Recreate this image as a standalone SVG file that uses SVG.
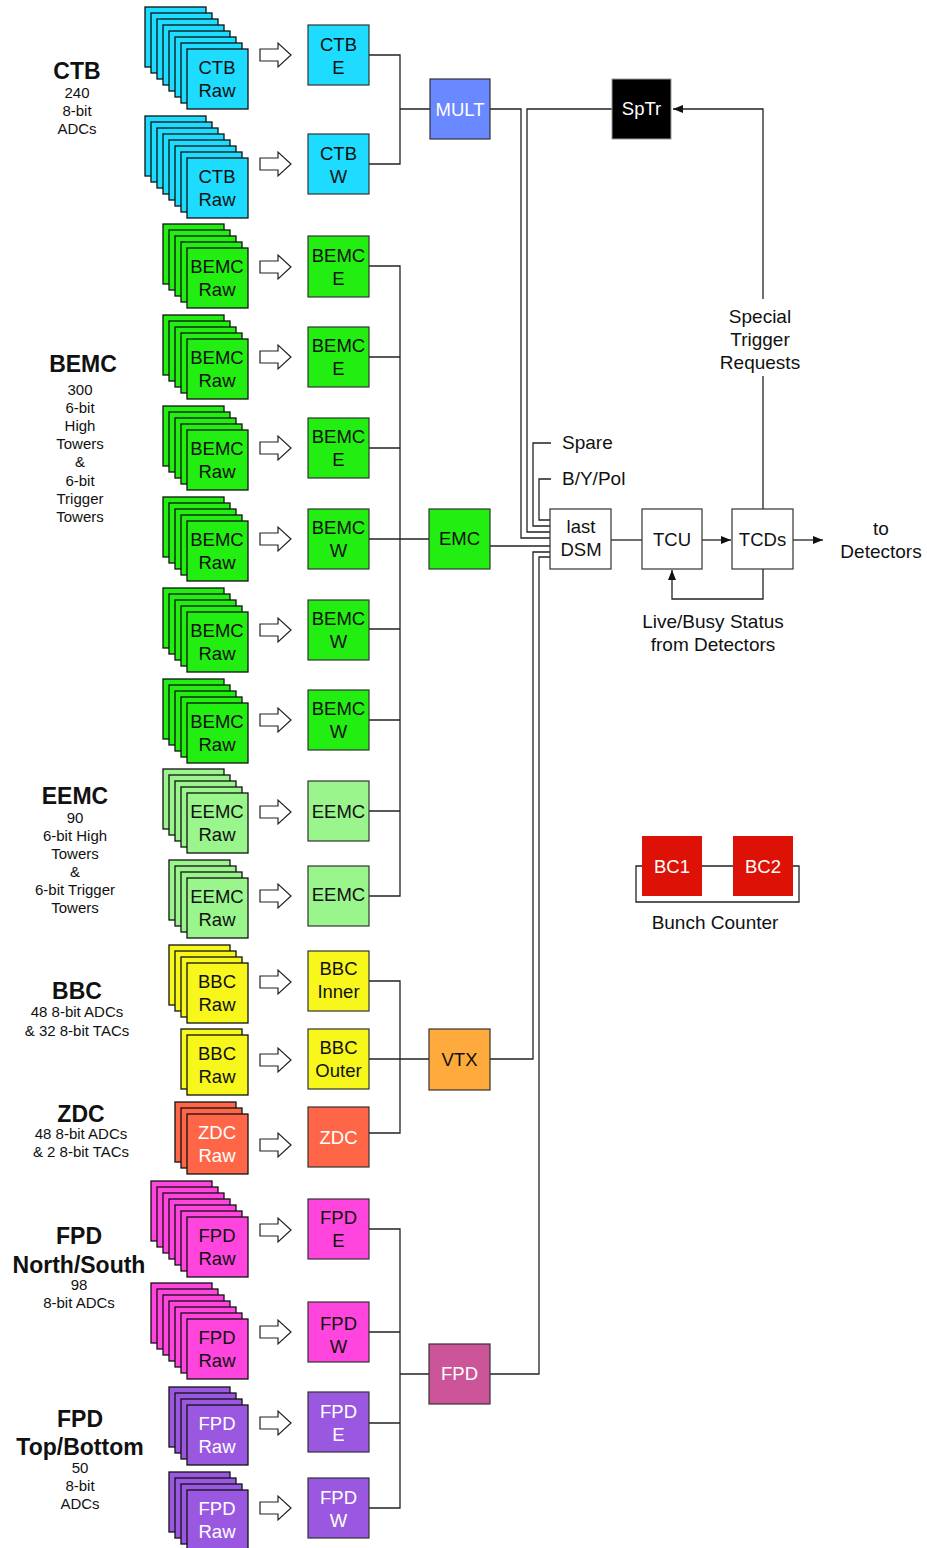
<svg xmlns="http://www.w3.org/2000/svg" xmlns:xlink="http://www.w3.org/1999/xlink" width="927" height="1548" viewBox="0 0 927 1548">
<style>
text{font-family:"Liberation Sans",Arial,sans-serif;fill:#111}
.bt{font-size:18.5px;text-anchor:middle}
.wt{fill:#fff}
.lab{font-size:19px}
.hd{font-size:23px;font-weight:bold;text-anchor:middle}
.sm{font-size:15px;text-anchor:middle}
.card{stroke:#111;stroke-width:1.3}
.box{stroke:#333;stroke-width:1.2}
.cy{fill:#1ddcff}.gr{fill:#22ee11}.lg{fill:#99f58c}.ye{fill:#f7f71c}.zd{fill:#ff6648}.mg{fill:#ff45dd}.pu{fill:#9a58e0}
.ln{fill:none;stroke:#222;stroke-width:1.3}
.blk{fill:#fff;stroke:#222;stroke-width:1.2}
</style>
<defs>
<marker id="ah" viewBox="0 0 10 8" refX="10" refY="4" markerWidth="10" markerHeight="8" markerUnits="userSpaceOnUse" orient="auto"><path d="M0,0 L10,4 L0,8 Z" fill="#111"/></marker>
<path id="blk" class="blk" d="M0,-6 H18 V-12 L31,0 L18,12 V6 H0 Z"/>
</defs>

<g id="connectors">
<path class="ln" d="M369,55 H400 V164 H369 M400,109 H430"/>
<path class="ln" d="M369,266 H400 V896 H369 M369,357 H400 M369,448 H400 M369,539 H429 M369,629 H400 M369,720 H400 M369,811 H400"/>
<path class="ln" d="M369,981 H400 V1133 H369 M369,1059 H429"/>
<path class="ln" d="M369,1229 H400 V1508 H369 M369,1332 H400 M369,1423 H400 M400,1374 H429"/>
<path class="ln" d="M490,109 H521 V538 H550"/>
<path class="ln" d="M612,109 H527 V532 H550"/>
<path class="ln" d="M551,443 H533 V526 H550"/>
<path class="ln" d="M551,479 H539 V520 H550"/>
<path class="ln" d="M490,546 H550"/>
<path class="ln" d="M490,1059 H533 V552 H550"/>
<path class="ln" d="M490,1374 H539 V557 H550"/>
<path class="ln" d="M611,540 H642"/>
<path class="ln" d="M702,540 H731" marker-end="url(#ah)"/>
<path class="ln" d="M793,540 H823" marker-end="url(#ah)"/>
<path class="ln" d="M763,569 V599 H672 V570" marker-end="url(#ah)"/>
<path class="ln" d="M763,509 V376 M763,299 V109 H673" marker-end="url(#ah)"/>
<path class="ln" d="M702,866 H733 M642,866 H636 V902 H799 V866 H793"/>
<use xlink:href="#blk" x="260" y="55"/>
<use xlink:href="#blk" x="260" y="164"/>
<use xlink:href="#blk" x="260" y="267"/>
<use xlink:href="#blk" x="260" y="357"/>
<use xlink:href="#blk" x="260" y="448"/>
<use xlink:href="#blk" x="260" y="539"/>
<use xlink:href="#blk" x="260" y="630"/>
<use xlink:href="#blk" x="260" y="720"/>
<use xlink:href="#blk" x="260" y="812"/>
<use xlink:href="#blk" x="260" y="896"/>
<use xlink:href="#blk" x="260" y="982"/>
<use xlink:href="#blk" x="260" y="1060"/>
<use xlink:href="#blk" x="260" y="1145"/>
<use xlink:href="#blk" x="260" y="1230"/>
<use xlink:href="#blk" x="260" y="1332"/>
<use xlink:href="#blk" x="260" y="1423"/>
<use xlink:href="#blk" x="260" y="1508"/>
</g>

<g id="lbl-ctb"><text class="hd" x="77" y="79">CTB</text><text class="sm" x="77" y="98">240</text><text class="sm" x="77" y="116">8-bit</text><text class="sm" x="77" y="134">ADCs</text></g>
<g id="lbl-bemc"><text class="hd" x="83" y="372">BEMC</text><text class="sm" x="80" y="395">300</text><text class="sm" x="80" y="413">6-bit</text><text class="sm" x="80" y="431">High</text><text class="sm" x="80" y="449">Towers</text><text class="sm" x="80" y="467">&amp;</text><text class="sm" x="80" y="486">6-bit</text><text class="sm" x="80" y="504">Trigger</text><text class="sm" x="80" y="522">Towers</text></g>
<g id="lbl-eemc"><text class="hd" x="75" y="804">EEMC</text><text class="sm" x="75" y="823">90</text><text class="sm" x="75" y="841">6-bit High</text><text class="sm" x="75" y="859">Towers</text><text class="sm" x="75" y="877">&amp;</text><text class="sm" x="75" y="895">6-bit Trigger</text><text class="sm" x="75" y="913">Towers</text></g>
<g id="lbl-bbc"><text class="hd" x="77" y="999">BBC</text><text class="sm" x="77" y="1017">48 8-bit ADCs</text><text class="sm" x="77" y="1036">&amp; 32 8-bit TACs</text></g>
<g id="lbl-zdc"><text class="hd" x="81" y="1122">ZDC</text><text class="sm" x="81" y="1139">48 8-bit ADCs</text><text class="sm" x="81" y="1157">&amp; 2 8-bit TACs</text></g>
<g id="lbl-fpdns"><text class="hd" x="79" y="1244">FPD</text><text class="hd" x="79" y="1273">North/South</text><text class="sm" x="79" y="1290">98</text><text class="sm" x="79" y="1308">8-bit ADCs</text></g>
<g id="lbl-fpdtb"><text class="hd" x="80" y="1427">FPD</text><text class="hd" x="80" y="1455">Top/Bottom</text><text class="sm" x="80" y="1473">50</text><text class="sm" x="80" y="1491">8-bit</text><text class="sm" x="80" y="1509">ADCs</text></g>

<g id="ctb-raw-1" class="cy"><rect class="card" x="145" y="7" width="61" height="60"/><rect class="card" x="151" y="13" width="61" height="60"/><rect class="card" x="157" y="19" width="61" height="60"/><rect class="card" x="163" y="25" width="61" height="60"/><rect class="card" x="169" y="31" width="61" height="60"/><rect class="card" x="175" y="37" width="61" height="60"/><rect class="card" x="181" y="43" width="61" height="60"/><rect class="card" x="187" y="49" width="61" height="60"/><text class="bt" x="217" y="74">CTB</text><text class="bt" x="217" y="97">Raw</text></g>
<g id="ctb-raw-2" class="cy"><rect class="card" x="145" y="116" width="61" height="60"/><rect class="card" x="151" y="122" width="61" height="60"/><rect class="card" x="157" y="128" width="61" height="60"/><rect class="card" x="163" y="134" width="61" height="60"/><rect class="card" x="169" y="140" width="61" height="60"/><rect class="card" x="175" y="146" width="61" height="60"/><rect class="card" x="181" y="152" width="61" height="60"/><rect class="card" x="187" y="158" width="61" height="60"/><text class="bt" x="217" y="183">CTB</text><text class="bt" x="217" y="206">Raw</text></g>
<g id="bemc-raw-1" class="gr"><rect class="card" x="163" y="224" width="61" height="60"/><rect class="card" x="169" y="230" width="61" height="60"/><rect class="card" x="175" y="236" width="61" height="60"/><rect class="card" x="181" y="242" width="61" height="60"/><rect class="card" x="187" y="248" width="61" height="60"/><text class="bt" x="217" y="273">BEMC</text><text class="bt" x="217" y="296">Raw</text></g>
<g id="bemc-raw-2" class="gr"><rect class="card" x="163" y="315" width="61" height="60"/><rect class="card" x="169" y="321" width="61" height="60"/><rect class="card" x="175" y="327" width="61" height="60"/><rect class="card" x="181" y="333" width="61" height="60"/><rect class="card" x="187" y="339" width="61" height="60"/><text class="bt" x="217" y="364">BEMC</text><text class="bt" x="217" y="387">Raw</text></g>
<g id="bemc-raw-3" class="gr"><rect class="card" x="163" y="406" width="61" height="60"/><rect class="card" x="169" y="412" width="61" height="60"/><rect class="card" x="175" y="418" width="61" height="60"/><rect class="card" x="181" y="424" width="61" height="60"/><rect class="card" x="187" y="430" width="61" height="60"/><text class="bt" x="217" y="455">BEMC</text><text class="bt" x="217" y="478">Raw</text></g>
<g id="bemc-raw-4" class="gr"><rect class="card" x="163" y="497" width="61" height="60"/><rect class="card" x="169" y="503" width="61" height="60"/><rect class="card" x="175" y="509" width="61" height="60"/><rect class="card" x="181" y="515" width="61" height="60"/><rect class="card" x="187" y="521" width="61" height="60"/><text class="bt" x="217" y="546">BEMC</text><text class="bt" x="217" y="569">Raw</text></g>
<g id="bemc-raw-5" class="gr"><rect class="card" x="163" y="588" width="61" height="60"/><rect class="card" x="169" y="594" width="61" height="60"/><rect class="card" x="175" y="600" width="61" height="60"/><rect class="card" x="181" y="606" width="61" height="60"/><rect class="card" x="187" y="612" width="61" height="60"/><text class="bt" x="217" y="637">BEMC</text><text class="bt" x="217" y="660">Raw</text></g>
<g id="bemc-raw-6" class="gr"><rect class="card" x="163" y="679" width="61" height="60"/><rect class="card" x="169" y="685" width="61" height="60"/><rect class="card" x="175" y="691" width="61" height="60"/><rect class="card" x="181" y="697" width="61" height="60"/><rect class="card" x="187" y="703" width="61" height="60"/><text class="bt" x="217" y="728">BEMC</text><text class="bt" x="217" y="751">Raw</text></g>
<g id="eemc-raw-1" class="lg"><rect class="card" x="163" y="769" width="61" height="60"/><rect class="card" x="169" y="775" width="61" height="60"/><rect class="card" x="175" y="781" width="61" height="60"/><rect class="card" x="181" y="787" width="61" height="60"/><rect class="card" x="187" y="793" width="61" height="60"/><text class="bt" x="217" y="818">EEMC</text><text class="bt" x="217" y="841">Raw</text></g>
<g id="eemc-raw-2" class="lg"><rect class="card" x="169" y="860" width="61" height="60"/><rect class="card" x="175" y="866" width="61" height="60"/><rect class="card" x="181" y="872" width="61" height="60"/><rect class="card" x="187" y="878" width="61" height="60"/><text class="bt" x="217" y="903">EEMC</text><text class="bt" x="217" y="926">Raw</text></g>
<g id="bbc-raw-1" class="ye"><rect class="card" x="169" y="945" width="61" height="60"/><rect class="card" x="175" y="951" width="61" height="60"/><rect class="card" x="181" y="957" width="61" height="60"/><rect class="card" x="187" y="963" width="61" height="60"/><text class="bt" x="217" y="988">BBC</text><text class="bt" x="217" y="1011">Raw</text></g>
<g id="bbc-raw-2" class="ye"><rect class="card" x="181" y="1029" width="61" height="60"/><rect class="card" x="187" y="1035" width="61" height="60"/><text class="bt" x="217" y="1060">BBC</text><text class="bt" x="217" y="1083">Raw</text></g>
<g id="zdc-raw" class="zd"><rect class="card" x="175" y="1102" width="61" height="60"/><rect class="card" x="181" y="1108" width="61" height="60"/><rect class="card" x="187" y="1114" width="61" height="60"/><text class="bt wt" x="217" y="1139">ZDC</text><text class="bt wt" x="217" y="1162">Raw</text></g>
<g id="fpd-raw-1" class="mg"><rect class="card" x="151" y="1181" width="61" height="60"/><rect class="card" x="157" y="1187" width="61" height="60"/><rect class="card" x="163" y="1193" width="61" height="60"/><rect class="card" x="169" y="1199" width="61" height="60"/><rect class="card" x="175" y="1205" width="61" height="60"/><rect class="card" x="181" y="1211" width="61" height="60"/><rect class="card" x="187" y="1217" width="61" height="60"/><text class="bt" x="217" y="1242">FPD</text><text class="bt" x="217" y="1265">Raw</text></g>
<g id="fpd-raw-2" class="mg"><rect class="card" x="151" y="1283" width="61" height="60"/><rect class="card" x="157" y="1289" width="61" height="60"/><rect class="card" x="163" y="1295" width="61" height="60"/><rect class="card" x="169" y="1301" width="61" height="60"/><rect class="card" x="175" y="1307" width="61" height="60"/><rect class="card" x="181" y="1313" width="61" height="60"/><rect class="card" x="187" y="1319" width="61" height="60"/><text class="bt" x="217" y="1344">FPD</text><text class="bt" x="217" y="1367">Raw</text></g>
<g id="fpd-raw-3" class="pu"><rect class="card" x="169" y="1387" width="61" height="60"/><rect class="card" x="175" y="1393" width="61" height="60"/><rect class="card" x="181" y="1399" width="61" height="60"/><rect class="card" x="187" y="1405" width="61" height="60"/><text class="bt wt" x="217" y="1430">FPD</text><text class="bt wt" x="217" y="1453">Raw</text></g>
<g id="fpd-raw-4" class="pu"><rect class="card" x="169" y="1472" width="61" height="60"/><rect class="card" x="175" y="1478" width="61" height="60"/><rect class="card" x="181" y="1484" width="61" height="60"/><rect class="card" x="187" y="1490" width="61" height="60"/><text class="bt wt" x="217" y="1515">FPD</text><text class="bt wt" x="217" y="1538">Raw</text></g>

<g id="ctb-e"><rect class="box cy" x="308" y="25" width="61" height="60"/><text class="bt" x="338.5" y="51">CTB</text><text class="bt" x="338.5" y="74">E</text></g>
<g id="ctb-w"><rect class="box cy" x="308" y="134" width="61" height="60"/><text class="bt" x="338.5" y="160">CTB</text><text class="bt" x="338.5" y="183">W</text></g>
<g id="bemc-e-1"><rect class="box gr" x="308" y="236" width="61" height="61"/><text class="bt" x="338.5" y="262">BEMC</text><text class="bt" x="338.5" y="285">E</text></g>
<g id="bemc-e-2"><rect class="box gr" x="308" y="327" width="61" height="60"/><text class="bt" x="338.5" y="352">BEMC</text><text class="bt" x="338.5" y="375">E</text></g>
<g id="bemc-e-3"><rect class="box gr" x="308" y="418" width="61" height="60"/><text class="bt" x="338.5" y="443">BEMC</text><text class="bt" x="338.5" y="466">E</text></g>
<g id="bemc-w-1"><rect class="box gr" x="308" y="509" width="61" height="60"/><text class="bt" x="338.5" y="534">BEMC</text><text class="bt" x="338.5" y="557">W</text></g>
<g id="bemc-w-2"><rect class="box gr" x="308" y="600" width="61" height="60"/><text class="bt" x="338.5" y="625">BEMC</text><text class="bt" x="338.5" y="648">W</text></g>
<g id="bemc-w-3"><rect class="box gr" x="308" y="690" width="61" height="60"/><text class="bt" x="338.5" y="715">BEMC</text><text class="bt" x="338.5" y="738">W</text></g>
<g id="eemc-1"><rect class="box lg" x="308" y="781" width="61" height="60"/><text class="bt" x="338.5" y="818">EEMC</text></g>
<g id="eemc-2"><rect class="box lg" x="308" y="866" width="61" height="60"/><text class="bt" x="338.5" y="901">EEMC</text></g>
<g id="bbc-inner"><rect class="box ye" x="308" y="951" width="61" height="60"/><text class="bt" x="338.5" y="975">BBC</text><text class="bt" x="338.5" y="998">Inner</text></g>
<g id="bbc-outer"><rect class="box ye" x="308" y="1029" width="61" height="60"/><text class="bt" x="338.5" y="1054">BBC</text><text class="bt" x="338.5" y="1077">Outer</text></g>
<g id="zdc"><rect class="box zd" x="308" y="1107" width="61" height="60"/><text class="bt wt" x="338.5" y="1144">ZDC</text></g>
<g id="fpd-e-1"><rect class="box mg" x="308" y="1199" width="61" height="60"/><text class="bt" x="338.5" y="1224">FPD</text><text class="bt" x="338.5" y="1247">E</text></g>
<g id="fpd-w-1"><rect class="box mg" x="308" y="1302" width="61" height="60"/><text class="bt" x="338.5" y="1330">FPD</text><text class="bt" x="338.5" y="1353">W</text></g>
<g id="fpd-e-2"><rect class="box pu" x="308" y="1392" width="61" height="60"/><text class="bt wt" x="338.5" y="1418">FPD</text><text class="bt wt" x="338.5" y="1441">E</text></g>
<g id="fpd-w-2"><rect class="box pu" x="308" y="1478" width="61" height="60"/><text class="bt wt" x="338.5" y="1504">FPD</text><text class="bt wt" x="338.5" y="1527">W</text></g>

<g id="mult"><rect class="box" fill="#6a88ff" x="430" y="79" width="60" height="60"/><text class="bt wt" x="460" y="116">MULT</text></g>
<g id="emc"><rect class="box gr" x="429" y="509" width="61" height="60"/><text class="bt" x="459.5" y="545">EMC</text></g>
<g id="vtx"><rect class="box" fill="#ffaa3c" x="429" y="1029" width="61" height="61"/><text class="bt" x="459.5" y="1066">VTX</text></g>
<g id="fpd"><rect class="box" fill="#cc5599" x="429" y="1344" width="61" height="60"/><text class="bt wt" x="459.5" y="1380">FPD</text></g>

<g id="sptr"><rect x="612" y="79" width="59" height="60" fill="#000" stroke="#999" stroke-width="1"/><text class="bt wt" x="641.5" y="115">SpTr</text></g>
<g id="last-dsm"><rect class="box" fill="#fff" x="550" y="509" width="61" height="60"/><text class="bt" x="581" y="533">last</text><text class="bt" x="581" y="556">DSM</text></g>
<g id="tcu"><rect class="box" fill="#fff" x="642" y="509" width="60" height="60"/><text class="bt" x="672" y="546">TCU</text></g>
<g id="tcds"><rect class="box" fill="#fff" x="732" y="509" width="61" height="60"/><text class="bt" x="762.5" y="546">TCDs</text></g>
<g id="lbl-spare"><text class="lab" x="562" y="449">Spare</text></g>
<g id="lbl-bypol"><text class="lab" x="562" y="485">B/Y/Pol</text></g>
<g id="lbl-str"><text class="lab" text-anchor="middle" x="760" y="323">Special</text><text class="lab" text-anchor="middle" x="760" y="346">Trigger</text><text class="lab" text-anchor="middle" x="760" y="369">Requests</text></g>
<g id="lbl-to"><text class="lab" text-anchor="middle" x="881" y="535">to</text><text class="lab" text-anchor="middle" x="881" y="558">Detectors</text></g>
<g id="lbl-live"><text class="lab" text-anchor="middle" x="713" y="628">Live/Busy Status</text><text class="lab" text-anchor="middle" x="713" y="651">from Detectors</text></g>
<g id="bc1"><rect x="642" y="836" width="60" height="60" fill="#dd1105"/><text class="bt wt" x="672" y="873">BC1</text></g>
<g id="bc2"><rect x="733" y="836" width="60" height="60" fill="#dd1105"/><text class="bt wt" x="763" y="873">BC2</text></g>
<g id="lbl-bc"><text class="lab" text-anchor="middle" x="715" y="929">Bunch Counter</text></g>
</svg>
